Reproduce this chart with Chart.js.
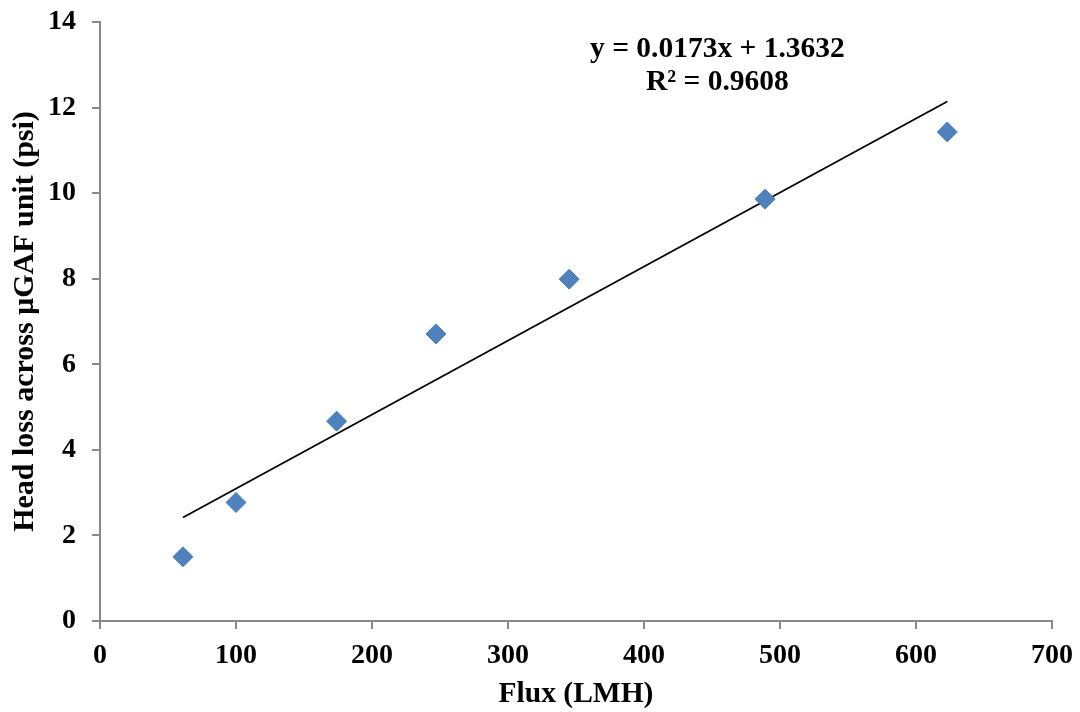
<!DOCTYPE html>
<html>
<head>
<meta charset="utf-8">
<script src="https://cdn.jsdelivr.net/npm/chart.js@4/dist/chart.umd.min.js"></script>
<style>
	html, body { margin: 0; padding: 0; background: #fff; }
	#wrap { width: 1080px; height: 712px; position: relative; }
</style>
</head>
<body>
<div id="wrap"><canvas id="fluxChart"></canvas></div>
<script>
// values
const fluxValues = [61, 100, 174, 247, 345, 489, 623];
const headLoss = [1.5, 2.77, 4.67, 6.71, 7.99, 9.86, 11.43];
const trendX = [61, 623];
const trendY = [2.42, 12.14];
const equationLines = ['y = 0.0173x + 1.3632', 'R² = 0.9608'];
const xTitle = 'Flux (LMH)';
const yTitle = 'Head loss across μGAF unit (psi)';

const fontFamily = '"Liberation Serif", "Times New Roman", serif';
const axisGray = '#898989';
const markerBlue = '#4F81BD';

function toPoints(xs, ys) {
	return xs.map((x, i) => ({ x, y: ys[i] }));
}

// drop the label overhang so layout.padding alone sets the plot box
function clearOverhang(scale) {
	scale.paddingTop = 0;
	scale.paddingBottom = 0;
	scale.paddingLeft = 0;
	scale.paddingRight = 0;
}

// draws the trendline equation box, anchored in data units
const equationPlugin = {
	id: 'equation',
	afterDatasetsDraw(chart) {
		const { ctx, scales } = chart;
		const cx = scales.x.getPixelForValue(454);
		const y1 = scales.y.getPixelForValue(13.37);
		const y2 = scales.y.getPixelForValue(12.58);
		ctx.save();
		ctx.fillStyle = '#000';
		ctx.font = `bold 29.5px ${fontFamily}`;
		ctx.textAlign = 'center';
		ctx.textBaseline = 'middle';
		ctx.fillText(equationLines[0], cx, y1);
		ctx.fillText(equationLines[1], cx, y2);
		ctx.restore();
	},
};

const canvas = document.querySelector('#fluxChart');
new Chart(canvas.getContext('2d'), {
	type: 'scatter',
	data: {
		datasets: [
			{
				label: 'Head loss',
				data: toPoints(fluxValues, headLoss),
				pointStyle: 'rectRot',
				pointRadius: 10,
				pointBackgroundColor: markerBlue,
				pointBorderColor: '#4A7EBB',
				pointBorderWidth: 1,
				order: 1,
			},
			{
				label: 'Linear fit',
				type: 'line',
				data: toPoints(trendX, trendY),
				borderColor: '#000',
				borderWidth: 1.8,
				pointRadius: 0,
				fill: false,
				order: 2,
			},
		],
	},
	options: {
		responsive: true,
		maintainAspectRatio: false,
		animation: false,
		layout: { padding: { top: 22, right: 28, left: 0, bottom: 0 } },
		plugins: {
			legend: { display: false },
			tooltip: { enabled: false },
		},
		scales: {
			x: {
				type: 'linear',
				min: 0,
				max: 700,
				ticks: {
					stepSize: 100,
					color: '#000',
					padding: 10,
					font: { family: fontFamily, size: 28, weight: 'bold' },
				},
				grid: { drawOnChartArea: false, drawTicks: true, tickLength: 8, color: axisGray, lineWidth: 2 },
				border: { color: axisGray, width: 2 },
				title: {
					display: true,
					text: xTitle,
					color: '#000',
					padding: { top: 3, bottom: 0 },
					font: { family: fontFamily, size: 29.5, weight: 'bold' },
				},
				afterFit: (scale) => {
					scale.height = 91;
					clearOverhang(scale);
				},
			},
			y: {
				min: 0,
				max: 14,
				ticks: {
					stepSize: 2,
					color: '#000',
					padding: 16,
					font: { family: fontFamily, size: 28, weight: 'bold' },
				},
				grid: { drawOnChartArea: false, drawTicks: true, tickLength: 8, color: axisGray, lineWidth: 2 },
				border: { color: axisGray, width: 2 },
				title: {
					display: true,
					text: yTitle,
					color: '#000',
					padding: { top: 7, bottom: 4 },
					font: { family: fontFamily, size: 30, weight: 'bold' },
				},
				afterFit: (scale) => {
					scale.width = 100;
					clearOverhang(scale);
				},
			},
		},
	},
	plugins: [equationPlugin],
});
</script>
</body>
</html>
